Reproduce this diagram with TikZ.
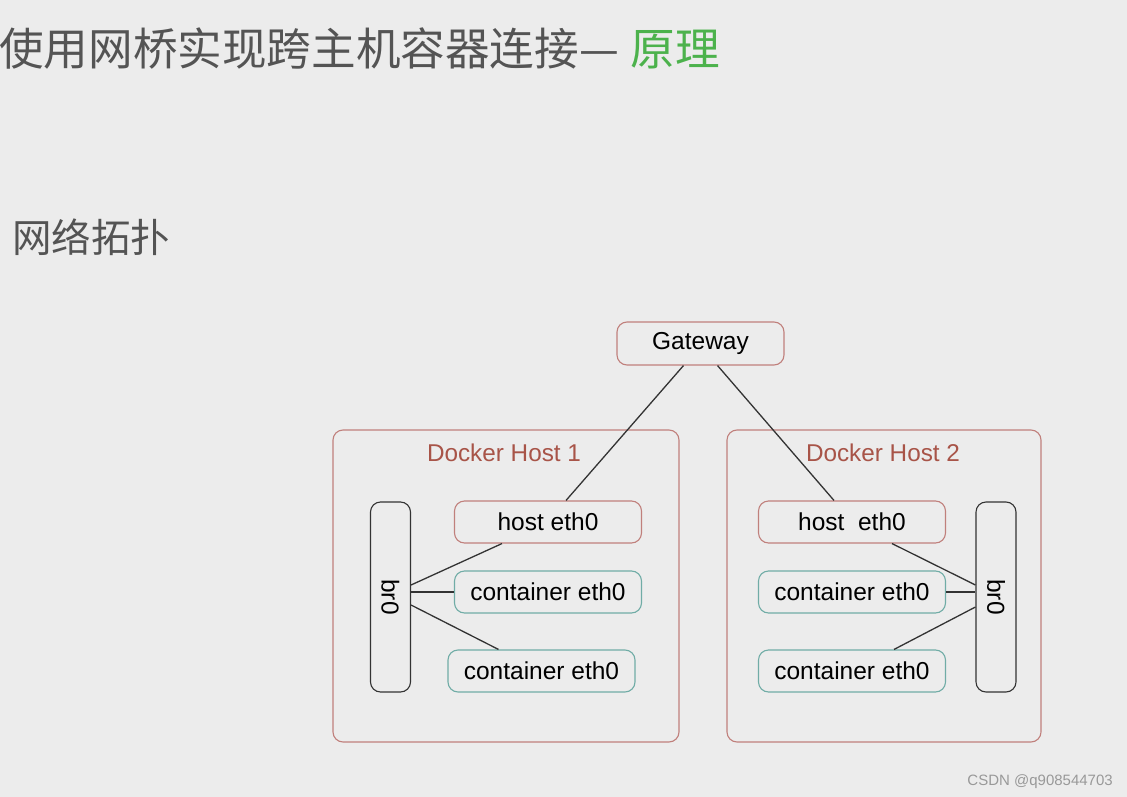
\documentclass[tikz,border=0pt]{standalone}
\usepackage{fontspec}
\setmainfont{Liberation Sans}
\newfontfamily\cjkfont{Noto Sans CJK SC}
\usetikzlibrary{positioning, calc}
\definecolor{pagebg}{RGB}{236,236,236}
\definecolor{hostred}{RGB}{192,128,124}
\definecolor{hostlabel}{RGB}{168,84,72}
\definecolor{boxteal}{RGB}{112,172,166}
\definecolor{titlegray}{RGB}{84,84,84}
\definecolor{titlegreen}{RGB}{76,178,76}
\tikzset{
  hostbox/.style   = {rectangle, rounded corners=10pt, draw=hostred, line width=1.1pt,
                      minimum width=346pt, minimum height=312pt, inner sep=0pt},
  gatebox/.style   = {rectangle, rounded corners=10pt, draw=hostred, line width=1.1pt,
                      fill=pagebg, minimum width=167pt, minimum height=43pt, inner sep=0pt,
                      font=\fontsize{24.5}{27}\selectfont},
  ethbox/.style    = {rectangle, rounded corners=10pt, draw=hostred, line width=1.1pt,
                      fill=pagebg, minimum width=187pt, minimum height=42pt, inner sep=0pt,
                      font=\fontsize{24.5}{27}\selectfont},
  ctbox/.style     = {ethbox, draw=boxteal},
  bridge/.style    = {rectangle, rounded corners=10pt, draw=black!80, line width=1.1pt,
                      minimum width=40pt, minimum height=190pt, inner sep=0pt},
  hosttitle/.style = {font=\fontsize{24.3}{27}\selectfont, text=hostlabel},
  link/.style      = {line width=1.3pt, black!80},
}

\begin{document}
\begin{tikzpicture}[x=1pt, y=-1pt]

  \fill[pagebg] (0,0) rectangle (1127,797);
  \useasboundingbox (0,0) rectangle (1127,797);

  % Titles
  \node[anchor=base west, inner sep=0pt, text=titlegray, font=\cjkfont\fontsize{44.6}{48}\selectfont] (title) at (-1,66)
    {使用网桥实现跨主机容器连接—\hspace{12pt}\textcolor{titlegreen}{原理}};
  \node[anchor=base west, inner sep=0pt, text=titlegray, font=\cjkfont\fontsize{39.5}{42}\selectfont] (topo) at (12,252) {网络拓扑};

  % Gateway
  \node[gatebox] (gw) at (700.5,343.5) {Gateway};

  % Docker Host 1
  \node[hostbox] (h1) at (506,586) {};
  \node[hosttitle] (h1t) at (504,453) {Docker Host 1};
  \node[bridge] (br1) at (390.5,597) {};
  \node[rotate=-90, font=\fontsize{24.5}{27}\selectfont] (br1t) at (br1.center) {br0};
  \node[ethbox] (he1) at (548,522) {host eth0};
  \node[ctbox] (ce1) at (548,592) {container eth0};
  \node[ctbox] (ce2) at (541.5,671) {container eth0};

  % Docker Host 2
  \node[hostbox, minimum width=314pt] (h2) at (884,586) {};
  \node[hosttitle] (h2t) at (883,453) {Docker Host 2};
  \node[bridge] (br2) at (996,597) {};
  \node[rotate=-90, font=\fontsize{24.5}{27}\selectfont] (br2t) at (br2.center) {br0};
  \node[ethbox] (he2) at (852,522) {host~~eth0};
  \node[ctbox] (ce3) at (852,592) {container eth0};
  \node[ctbox] (ce4) at (852,671) {container eth0};

  % Gateway uplinks
  \draw[link] ([xshift=-17pt]gw.south) -- ([xshift=18pt]he1.north);
  \draw[link] ([xshift=17pt]gw.south) -- ([xshift=-18pt]he2.north);

  % Bridge links, host 1
  \draw[link] ([yshift=12pt]br1.east) -- ([xshift=-46pt]he1.south);
  \draw[link] (br1.east |- ce1.west) -- (ce1.west);
  \draw[link] ([yshift=-8pt]br1.east) -- ([xshift=-43pt]ce2.north);

  % Bridge links, host 2
  \draw[link] ([xshift=40pt]he2.south) -- ([yshift=12pt]br2.west);
  \draw[link] (ce3.east) -- (br2.west |- ce3.east);
  \draw[link] ([xshift=42pt]ce4.north) -- ([yshift=-10pt]br2.west);

  % Watermark
  \node[anchor=base east, inner sep=0pt, text=black!40, font=\fontsize{15}{17}\selectfont] (mark) at (1113,785) {CSDN @q908544703};

\end{tikzpicture}
\end{document}
